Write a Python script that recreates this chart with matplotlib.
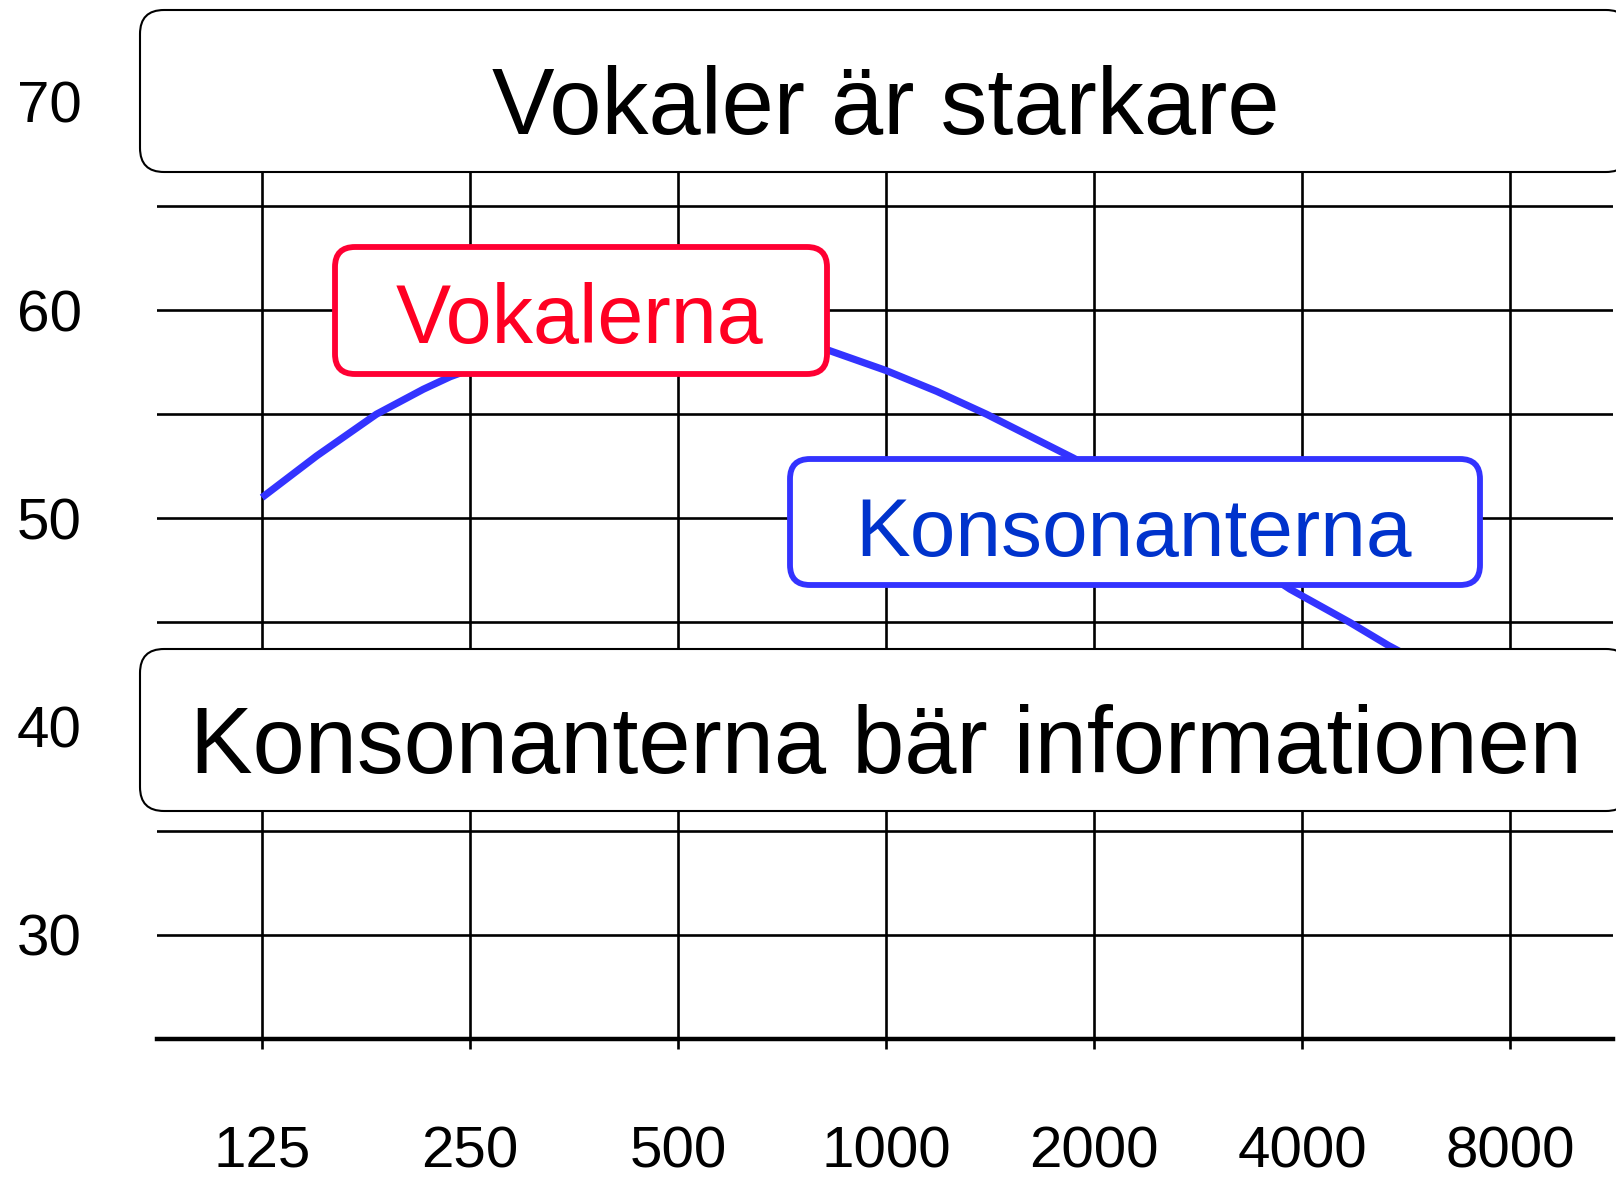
import matplotlib.pyplot as plt
from matplotlib.patches import FancyBboxPatch
from matplotlib.transforms import IdentityTransform

plt.rcParams['font.family'] = ['Liberation Sans', 'DejaVu Sans']

# octave-band frequencies (Hz) and dB levels
freq_ticks = [125, 250, 500, 1000, 2000, 4000, 8000]
freq_labels = ['125', '250', '500', '1000', '2000', '4000', '8000']
db_labels = [30, 40, 50, 60, 70]
db_minor = [35, 45, 55, 65]

# speech level curve
curve_freq = [125, 150, 183, 214, 234, 326, 491, 680, 821, 1000, 1184, 1398,
              1866, 2664, 3843, 4694, 5333, 5544]
curve_db = [51.0, 53.0, 55.0, 56.2, 56.8, 58.55, 59.35, 58.85, 58.1, 57.1, 56.1, 55.0,
            52.9, 50.1, 46.6, 45.0, 43.9, 43.6]

W, H = 1616, 1177
fig = plt.figure(figsize=(W / 100, H / 100), dpi=100)
ax = fig.add_axes([157 / W, (H - 1039) / H, (1613 - 157) / W, (1039 - 20) / H])

ax.plot(curve_freq, curve_db, color='#3333FF', lw=5.2, solid_capstyle='butt',
        solid_joinstyle='round', zorder=3)

ax.set_xscale('log', base=2)
ax.set_xlim(125 * 2 ** -0.5048, 8000 * 2 ** 0.4952)
ax.set_ylim(25, 73.93)
ax.set_xticks(freq_ticks)
ax.set_xticklabels(freq_labels)
ax.xaxis.set_minor_locator(plt.NullLocator())
ax.set_yticks(db_labels)
ax.set_yticks(db_minor, minor=True)

ax.grid(axis='x', which='major', color='black', lw=1.9)
ax.grid(axis='y', which='both', color='black', lw=1.9)
ax.set_axisbelow(True)

for s in ['top', 'right', 'left']:
    ax.spines[s].set_visible(False)
ax.spines['bottom'].set_linewidth(3.2)

ax.tick_params(axis='x', direction='out', length=7.5, width=1.9, pad=55, labelsize=42)
ax.tick_params(axis='y', which='both', length=0, pad=54, labelsize=42)


def box(x0, y0, x1, y1, edge, lw, r):
    # boxes in image pixels, top-left origin
    p = FancyBboxPatch((x0, H - y1), x1 - x0, y1 - y0,
                       boxstyle=f'round,pad=0,rounding_size={r}',
                       transform=IdentityTransform(), facecolor='white',
                       edgecolor=edge, lw=lw, zorder=5)
    fig.add_artist(p)


def label(x, ybase, s, size, color):
    fig.text(x, H - ybase, s, transform=IdentityTransform(), ha='center',
             va='baseline', fontsize=size, color=color, zorder=6)


box(140, 10, 1630, 172, 'black', 1.5, 24)
label(886, 134, 'Vokaler är starkare', 67.5, 'black')

box(140, 649, 1630, 811, 'black', 1.5, 24)
label(886, 773, 'Konsonanterna bär informationen', 67.5, 'black')

box(335, 247, 827, 374, '#FF0033', 4.2, 20)
label(580, 343, 'Vokalerna', 59.5, '#FF0022')

box(790, 459, 1480, 585, '#3333FF', 4.2, 20)
label(1134, 556, 'Konsonanterna', 59, '#0033CC')

fig.savefig('out.png', dpi=100)
